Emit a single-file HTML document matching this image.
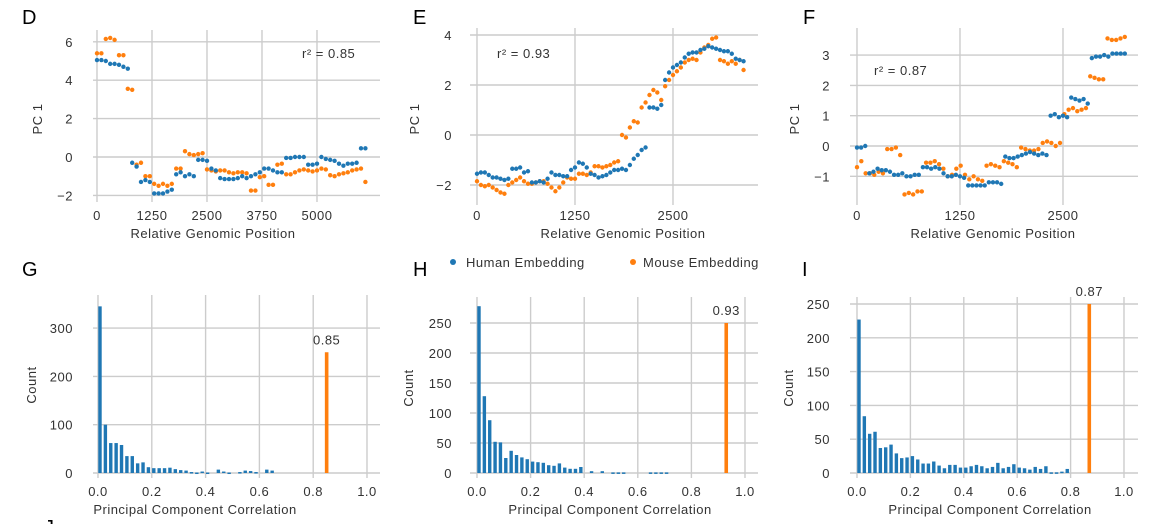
<!DOCTYPE html>
<html><head><meta charset="utf-8">
<style>
html,body{margin:0;padding:0;background:#fff;}
svg{display:block;font-family:"Liberation Sans",sans-serif;}
.t{font-size:13px;fill:#333;letter-spacing:0.5px}
.g{stroke:#cccccc;stroke-width:1.4}
.lt{font-size:20px;fill:#000}
</style></head>
<body>
<svg id="fig" width="1170" height="524" viewBox="0 0 1170 524"></svg>
<script>
// ---- Scatter data (PC1 along relative genomic position) ----
const dHuman=[5.05,5.05,5.0,4.85,4.85,4.8,4.7,4.6,-0.3,-0.5,-1.3,-1.2,-1.3,-1.9,-1.9,-1.9,-1.8,-1.7,-0.9,-0.8,-1.0,-0.9,-1.0,-0.15,-0.15,-0.2,-0.6,-0.7,-1.1,-1.15,-1.15,-1.15,-1.1,-1.0,-1.1,-1.0,-0.9,-0.8,-0.6,-0.6,-0.7,-0.8,-0.8,-0.05,-0.05,0,0,0,-0.4,-0.4,-0.35,0,-0.1,-0.15,-0.2,-0.35,-0.45,-0.35,-0.35,-0.3,0.45,0.45];
const dMouse=[5.4,5.4,6.15,6.2,6.1,5.3,5.3,3.55,3.5,-0.4,-0.3,-1.0,-1.0,-1.4,-1.5,-1.4,-1.5,-1.4,-0.6,-0.6,0.3,0.15,0.1,0.15,0.2,-0.65,-0.7,-0.75,-0.7,-0.7,-0.8,-0.85,-0.8,-0.8,-0.85,-1.75,-1.75,-1.05,-1.0,-1.45,-1.45,-0.4,-0.35,-0.9,-0.9,-0.8,-0.7,-0.65,-0.7,-0.75,-0.7,-0.6,-0.65,-0.95,-1.0,-0.9,-0.85,-0.8,-0.7,-0.65,-0.6,-1.3];
const eHuman=[-1.55,-1.5,-1.5,-1.6,-1.7,-1.7,-1.75,-1.8,-1.75,-1.35,-1.35,-1.3,-1.5,-1.45,-1.9,-1.9,-1.85,-1.9,-1.75,-1.5,-1.6,-1.6,-1.65,-1.65,-1.4,-1.3,-1.1,-1.15,-1.3,-1.55,-1.6,-1.7,-1.65,-1.6,-1.5,-1.4,-1.4,-1.35,-1.4,-1.2,-0.95,-0.8,-0.6,-0.5,1.1,1.1,1.05,1.2,2.2,2.5,2.7,2.8,2.9,3.1,3.25,3.3,3.3,3.4,3.45,3.55,3.5,3.45,3.4,3.35,3.35,3.25,3.05,3.0,2.95];
const eMouse=[-1.85,-2.0,-2.05,-2.0,-2.1,-2.2,-2.3,-2.35,-2.0,-1.9,-1.8,-1.7,-1.85,-1.95,-1.95,-1.9,-1.85,-1.85,-1.95,-2.1,-2.25,-2.1,-1.9,-1.7,-1.75,-1.75,-1.55,-1.55,-1.6,-1.5,-1.25,-1.25,-1.3,-1.25,-1.2,-1.1,-1.05,0.0,-0.1,0.3,0.55,0.5,1.1,1.3,1.6,1.8,1.7,1.4,1.95,2.2,2.4,2.55,2.7,2.9,3.0,3.05,3.0,3.3,3.5,3.6,3.85,3.9,3.0,2.95,2.85,2.95,2.85,3.0,2.6];
const fHuman=[-0.05,-0.05,0,-0.9,-0.85,-0.75,-0.8,-0.8,-0.85,-0.95,-0.95,-0.9,-1.0,-1.0,-0.95,-0.95,-0.7,-0.7,-0.75,-0.7,-0.75,-0.9,-1.0,-1.0,-0.95,-1.0,-1.05,-1.3,-1.3,-1.3,-1.3,-1.3,-1.2,-1.2,-1.2,-1.25,-0.35,-0.4,-0.4,-0.35,-0.3,-0.25,-0.2,-0.25,-0.3,-0.25,-0.3,1.0,1.05,0.95,1.0,0.95,1.6,1.55,1.5,1.55,1.4,2.9,2.95,2.95,3.0,2.95,3.05,3.05,3.05,3.05];
const fMouse=[-0.7,-0.5,-0.9,-0.9,-0.95,-0.85,-0.9,-0.1,-0.1,-0.05,-0.3,-1.6,-1.55,-1.6,-1.5,-1.5,-0.55,-0.55,-0.5,-0.6,-0.75,-1.0,-0.95,-0.75,-0.65,-0.95,-1.1,-1.0,-1.1,-1.15,-0.65,-0.6,-0.65,-0.7,-0.5,-0.55,-0.6,-0.7,-0.05,-0.1,-0.15,-0.15,-0.1,0.1,0.15,0.1,0.0,0.1,1.05,1.2,1.25,1.15,1.2,1.25,2.3,2.25,2.2,2.2,3.55,3.5,3.5,3.55,3.6];
const dEnd=6100, eEnd=3400, fEnd=3250;
const dYTicks=[-2,0,2,4,6], eYTicks=[-2,0,2,4], fYTicks=[-1,0,1,2,3];
const dXTicks=[0,1250,2500,3750,5000], eXTicks=[0,1250,2500], fXTicks=[0,1250,2500];
const r2Labels=["r\u00b2 = 0.85","r\u00b2 = 0.93","r\u00b2 = 0.87"];
// ---- Histogram data (counts per 0.02 bin) ----
const gCounts=[345,100,62,62,58,35,35,20,22,12,10,10,10,11,8,6,5,2,1,3,1,0,7,3,1,0,2,5,4,2,0,7,5,0,0];
const hCounts=[278,128,88,52,51,25,37,30,26,23,19,18,17,13,12,16,9,7,7,10,0,3,0,3,0,1,1,1,0,0,0,0,1,1,1,1,0];
const iCounts=[227,84,58,61,37,38,42,29,22,23,25,20,14,14,17,11,7,12,12,8,8,10,12,10,7,9,15,7,9,13,8,7,5,9,6,10,1,1,2,6];
const observed=[0.85,0.93,0.87];
const obsCount=[250,250,250];
const gYTicks=[0,100,200,300], hYTicks=[0,50,100,150,200,250], iYTicks=[0,50,100,150,200,250];
const histXTicks=[0,0.2,0.4,0.6,0.8,1.0];

const NS="http://www.w3.org/2000/svg";
const svg=document.getElementById('fig');
const BLUE="#1f77b4", ORANGE="#ff7f0e";
function mk(tag,attrs,parent){const e=document.createElementNS(NS,tag);for(const k in attrs)e.setAttribute(k,attrs[k]);(parent||svg).appendChild(e);return e;}
function txt(x,y,s,cls,anchor,parent){const e=mk('text',{x:x,y:y,class:cls,'text-anchor':anchor||'middle'},parent);e.textContent=s;return e;}

function panel(cfg){
  const g=mk('g',{});
  
  
  const X=v=>cfg.x0+v*cfg.xs, Y=v=>cfg.y0-v*cfg.ys;
  cfg.yTicks.forEach(t=>{
    const l=mk('line',{x1:cfg.gx1,x2:cfg.gx2,y1:Y(t),y2:Y(t),class:'g'},g);
    
    
    const tl=txt(cfg.ylx,Y(t)+5,t<0?'\u2212'+Math.abs(t):String(t),'t','end',g);
    
    
  });
  cfg.xTicks.forEach(t=>{
    const l=mk('line',{x1:X(t),x2:X(t),y1:cfg.gy1,y2:cfg.gy2,class:'g'},g);
    
    
    const tl=txt(X(t),cfg.xly,cfg.fmt?cfg.fmt(t):String(t),'t','middle',g);
    
    
  });
  const xt=txt(cfg.xtx,cfg.xty,cfg.xTitle,'t','middle',g);
  
  
  const yt=txt(0,0,cfg.yTitle,'t','middle',g);
  yt.setAttribute('transform','translate('+cfg.ytx+','+cfg.yty+') rotate(-90)');
  
  
  const lt=txt(cfg.lx,cfg.ly,cfg.letter,'lt','start',g);
  
  
  return {g,X,Y};
}

function scatter(cfg,hum,mou,end,r2,r2x,r2y){
  const p=panel(cfg);
  [[mou,ORANGE,'mouse-point'],[hum,BLUE,'human-point']].forEach(([arr,col,nm])=>{
    const step=end/(arr.length-1);
    arr.forEach((v,i)=>{
      const c=mk('circle',{cx:p.X(i*step),cy:p.Y(v),r:2.2,fill:col},p.g);
      
      
    });
  });
  const t=txt(r2x,r2y,r2,'t','start',p.g);
  
  
}

function hist(cfg,counts,obs,oc){
  const p=panel(cfg);
  counts.forEach((c,i)=>{
    if(c<=0)return;
    const x=p.X(i*0.02)+0.3;
    const r=mk('rect',{x:x,y:p.Y(c),width:3.4,height:Math.max(p.Y(0)-p.Y(c),1.5),fill:BLUE},p.g);
    
    
  });
  const ob=mk('rect',{x:p.X(obs)-1.8,y:p.Y(oc),width:3.6,height:p.Y(0)-p.Y(oc),fill:ORANGE},p.g);
  
  
  const t=txt(p.X(obs),p.Y(oc)-8,obs.toFixed(2),'t','middle',p.g);
  
  
}

const XT="Relative Genomic Position", HT="Principal Component Correlation";
scatter({name:'panel-d',x0:97,xs:0.044,y0:157,ys:19.2,gx1:93,gx2:380,gy1:30,gy2:202,ylx:73,xly:220,xtx:213,xty:238,ytx:42,yty:119,xTitle:XT,yTitle:'PC 1',letter:'D',lx:22,ly:24,yTicks:dYTicks,xTicks:dXTicks},dHuman,dMouse,dEnd,r2Labels[0],302,58);
scatter({name:'panel-e',x0:477,xs:98/1250,y0:135,ys:25,gx1:470,gx2:758,gy1:28,gy2:205,ylx:452,xly:220,xtx:623,xty:238,ytx:419,yty:119,xTitle:XT,yTitle:'PC 1',letter:'E',lx:413,ly:24,yTicks:eYTicks,xTicks:eXTicks},eHuman,eMouse,eEnd,r2Labels[1],497,58);
scatter({name:'panel-f',x0:857,xs:103/1250,y0:146,ys:30.3,gx1:850,gx2:1138,gy1:28,gy2:205,ylx:830,xly:220,xtx:993,xty:238,ytx:799,yty:119,xTitle:XT,yTitle:'PC 1',letter:'F',lx:803,ly:24,yTicks:fYTicks,xTicks:fXTicks},fHuman,fMouse,fEnd,r2Labels[2],874,75);

const f1=v=>v.toFixed(1);
hist({name:'panel-g',x0:98,xs:269,y0:473,ys:0.483,gx1:93,gx2:380,gy1:295,gy2:478,ylx:73,xly:496,xtx:195,xty:514,ytx:36,yty:385,xTitle:HT,yTitle:'Count',letter:'G',lx:22,ly:276,yTicks:gYTicks,xTicks:histXTicks,fmt:f1},gCounts,observed[0],obsCount[0]);
hist({name:'panel-h',x0:477,xs:268,y0:473,ys:0.6,gx1:470,gx2:758,gy1:297,gy2:478,ylx:452,xly:496,xtx:610,xty:514,ytx:413,yty:388,xTitle:HT,yTitle:'Count',letter:'H',lx:413,ly:276,yTicks:hYTicks,xTicks:histXTicks,fmt:f1},hCounts,observed[1],obsCount[1]);
hist({name:'panel-i',x0:857,xs:267,y0:473,ys:0.676,gx1:850,gx2:1138,gy1:297,gy2:478,ylx:830,xly:496,xtx:990,xty:514,ytx:793,yty:388,xTitle:HT,yTitle:'Count',letter:'I',lx:802,ly:276,yTicks:iYTicks,xTicks:histXTicks,fmt:f1},iCounts,observed[2],obsCount[2]);

// legend
const lg=mk('g',{});


const e1=mk('circle',{cx:453,cy:262,r:3,fill:BLUE},lg);


const e1t=txt(466,267,'Human Embedding','t','start',lg);


const e2=mk('circle',{cx:633,cy:262,r:3,fill:ORANGE},lg);


const e2t=txt(643,267,'Mouse Embedding','t','start',lg);


// cut-off letter at bottom
const cut=txt(44,534,'J','lt','start');


</script>
</body></html>
